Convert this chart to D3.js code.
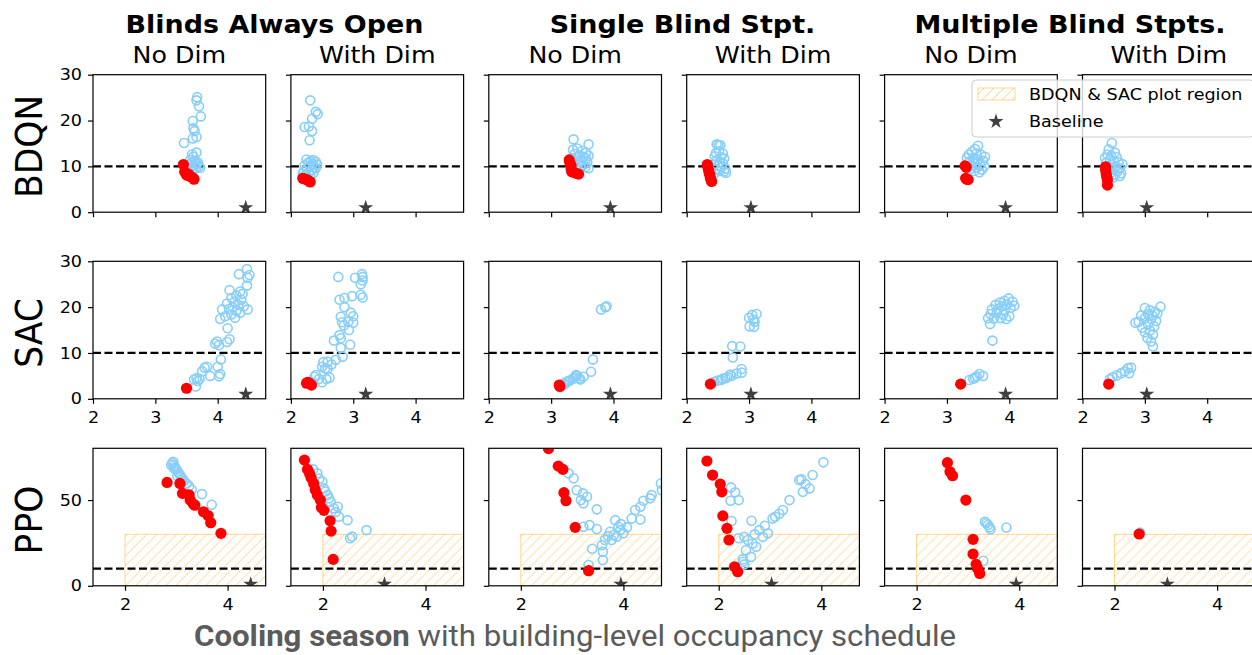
<!DOCTYPE html>
<html>
<head>
<meta charset="utf-8">
<script src="https://cdn.jsdelivr.net/npm/d3@7"></script>
<style>
  body { margin: 0; background: #fff; }
  svg { display: block; }
</style>
</head>
<body>
<svg id="chart" width="1252" height="655"></svg>
<script>
// ---- data ----
const algoNames = ["BDQN", "SAC", "PPO"];
const groupTitles = ["Blinds Always Open", "Single Blind Stpt.", "Multiple Blind Stpts."];
const dimTitles = ["No Dim", "With Dim", "No Dim", "With Dim", "No Dim", "With Dim"];
const legendLabels = ["BDQN & SAC plot region", "Baseline"];
const captionBold = "Cooling season";
const captionRest = " with building-level occupancy schedule";

const baselineX = [4.45, 3.20, 3.95, 3.03, 3.94, 3.03];
const baselineY = 1;
const thresholdY = 10;
const regionX = [2, 4.77];
const regionY = [0, 30];

const smallXDomain = [2, 4.77];
const smallYDomain = [0, 30];
const ppoXDomain = [1.376, 4.742];
const ppoYDomain = [0, 80.2];
const smallYTicks = [0, 10, 20, 30];
const smallXTicks = [2, 3, 4];
const ppoYTicks = [0, 50];
const ppoXTicks = [2, 4];

// BDQN: all runs (open circles) and selected runs (red) for each of the 6 panels
const bdqnRuns = [
  [[3.67,25.1],[3.66,24.4],[3.70,23.1],[3.73,20.9],[3.60,19.9],[3.61,18.3],[3.63,17.7],[3.66,16.4],[3.60,16.1],[3.46,15.1],[3.66,13.0],[3.59,12.6],[3.61,12.1],[3.56,11.4],[3.63,11.2],[3.58,10.8],[3.68,10.9],[3.55,10.4],[3.62,10.2],[3.70,10.0],[3.57,9.8],[3.65,9.6],[3.60,9.4],[3.72,9.7],[3.53,9.9],[3.67,10.5],[3.59,9.1]],
  [[2.31,24.4],[2.43,21.4],[2.40,21.9],[2.34,20.4],[2.22,18.6],[2.29,18.7],[2.34,17.7],[2.30,15.7],[2.25,11.5],[2.32,11.2],[2.36,11.4],[2.40,11.0],[2.28,10.8],[2.35,10.5],[2.42,10.4],[2.22,10.2],[2.30,10.0],[2.38,9.8],[2.26,9.5],[2.33,9.2],[2.40,9.6],[2.21,9.0],[2.29,8.7],[2.36,8.5],[2.24,8.2],[2.31,8.0],[2.19,8.4]],
  [[3.36,15.9],[3.60,14.8],[3.35,13.6],[3.42,13.9],[3.50,13.4],[3.56,13.0],[3.38,12.7],[3.45,12.4],[3.52,12.1],[3.60,12.3],[3.33,11.8],[3.40,11.5],[3.48,11.2],[3.56,11.6],[3.36,10.8],[3.44,10.5],[3.52,10.3],[3.58,10.9],[3.47,9.9],[3.55,9.8],[3.60,9.6],[3.40,9.6]],
  [[2.48,14.8],[2.54,14.6],[2.51,14.7],[2.58,12.8],[2.47,12.9],[2.52,13.3],[2.45,12.2],[2.55,12.0],[2.60,11.7],[2.48,11.3],[2.53,10.9],[2.58,10.6],[2.44,10.4],[2.50,10.1],[2.56,9.8],[2.62,9.5],[2.47,9.4],[2.53,9.0],[2.60,8.9],[2.63,8.6],[2.45,8.5]],
  [[3.50,14.5],[3.45,13.8],[3.61,12.1],[3.40,13.2],[3.35,12.6],[3.47,12.8],[3.55,12.5],[3.32,11.9],[3.42,11.7],[3.50,11.5],[3.58,11.2],[3.36,11.0],[3.45,10.6],[3.53,10.3],[3.60,10.0],[3.40,10.1],[3.48,9.7],[3.56,9.3],[3.44,9.0],[3.52,8.7],[3.38,9.5]],
  [[2.47,15.1],[2.42,13.7],[2.52,13.0],[2.40,12.6],[2.46,12.3],[2.55,12.0],[2.36,11.8],[2.44,11.5],[2.50,11.2],[2.58,10.9],[2.64,10.5],[2.38,10.8],[2.46,10.4],[2.53,10.0],[2.60,9.6],[2.42,9.7],[2.49,9.3],[2.56,8.9],[2.62,8.5],[2.45,8.6],[2.52,8.2],[2.60,7.9],[2.50,7.6]]
];
const bdqnBest = [
  [[3.45,10.4],[3.47,8.8],[3.50,8.1],[3.53,8.3],[3.56,7.8],[3.60,7.5],[3.62,7.2]],
  [[2.19,7.4],[2.21,7.3],[2.25,7.1],[2.27,7.0],[2.30,6.7],[2.31,6.6]],
  [[3.29,11.4],[3.30,10.8],[3.32,10.2],[3.32,9.4],[3.33,8.8],[3.40,8.5],[3.44,8.3]],
  [[2.33,10.4],[2.34,9.8],[2.35,9.2],[2.36,8.6],[2.37,8.1],[2.38,7.5],[2.39,7.0],[2.40,6.7]],
  [[3.29,10.1],[3.31,9.8],[3.30,7.4],[3.32,7.2],[3.34,7.1]],
  [[2.37,9.9],[2.37,9.2],[2.38,8.4],[2.39,7.6],[2.40,7.0],[2.40,5.9]]
];

const sacRuns = [
  [[4.47,28.3],[4.34,27.2],[4.51,27.0],[4.48,26.4],[4.47,24.7],[4.19,23.7],[4.36,23.4],[4.40,22.9],[4.30,22.5],[4.22,22.0],[4.38,21.6],[4.27,21.2],[4.15,20.8],[4.33,20.5],[4.24,20.0],[4.42,20.2],[4.18,19.6],[4.30,19.2],[4.48,19.5],[4.07,19.5],[4.36,18.8],[4.22,18.4],[4.12,18.0],[4.28,17.7],[4.04,17.4],[4.16,15.4],[4.19,13.0],[4.15,12.4],[3.99,12.5],[3.96,12.0],[4.02,11.7],[4.05,8.6],[4.00,7.0],[3.83,7.0],[3.79,6.8],[3.75,6.0],[3.88,5.0],[4.02,4.9],[4.04,5.4],[3.66,4.5],[3.71,4.3],[3.68,3.9],[3.65,2.7],[3.62,4.2]],
  [[2.76,26.6],[3.14,27.2],[3.15,26.6],[3.03,26.4],[3.12,25.0],[3.15,25.8],[3.12,22.7],[3.15,22.1],[2.98,22.4],[2.78,21.6],[2.86,22.0],[2.86,20.0],[2.80,17.9],[2.96,18.8],[3.00,18.0],[2.82,16.7],[2.92,16.8],[3.00,16.6],[2.85,16.0],[2.93,15.0],[2.78,13.9],[2.80,13.2],[2.69,12.7],[2.95,11.8],[2.80,11.1],[2.83,9.2],[2.72,8.5],[2.59,8.1],[2.52,8.0],[2.50,7.0],[2.55,6.6],[2.59,6.5],[2.65,7.5],[2.40,5.2],[2.38,4.8],[2.45,4.3],[2.57,4.3],[2.50,3.6],[2.62,4.6]],
  [[3.80,19.5],[3.87,20.0],[3.89,20.2],[3.67,8.6],[3.64,5.9],[3.40,5.2],[3.52,4.8],[3.45,4.5],[3.35,4.4],[3.30,4.0],[3.25,3.7],[3.20,3.4],[3.38,4.7],[3.47,4.2],[3.28,3.9],[3.22,3.2],[3.42,5.0]],
  [[3.12,18.5],[3.05,18.3],[3.00,17.7],[3.07,17.3],[3.09,16.8],[3.01,15.8],[3.08,15.7],[2.73,11.5],[2.86,11.4],[2.74,9.0],[2.88,6.5],[2.88,5.7],[2.80,5.5],[2.72,5.0],[2.65,4.7],[2.58,4.4],[2.50,4.0],[2.44,3.7],[2.40,3.4],[2.62,4.5],[2.70,5.3],[2.55,4.1]],
  [[3.99,21.9],[3.92,21.4],[3.85,21.0],[4.05,21.2],[3.78,20.5],[3.88,20.2],[3.96,20.6],[4.08,20.3],[3.72,19.5],[3.82,19.6],[3.93,19.4],[4.02,19.8],[3.70,18.5],[3.80,18.8],[3.90,18.4],[4.00,18.0],[3.86,17.6],[3.95,17.4],[3.75,17.5],[3.66,17.6],[3.69,16.3],[3.73,12.7],[3.36,4.1],[3.42,4.4],[3.48,4.9],[3.52,5.4],[3.58,5.0],[3.45,4.6]],
  [[3.25,20.1],[3.00,19.8],[3.08,19.3],[3.16,19.0],[3.05,18.5],[3.12,18.2],[3.20,18.6],[2.94,18.2],[3.00,17.6],[3.10,17.4],[3.18,17.0],[2.90,16.8],[2.85,16.6],[3.05,16.3],[3.15,15.8],[2.96,15.5],[3.08,14.9],[3.00,14.5],[3.13,14.0],[3.04,13.3],[3.10,12.5],[3.13,11.4],[2.78,6.8],[2.73,6.7],[2.68,6.0],[2.62,5.6],[2.55,5.1],[2.48,4.7],[2.44,4.3],[2.75,5.6]]
];
const sacBest = [
  [[3.50,2.3]],
  [[2.27,3.6],[2.29,3.5],[2.33,3.0],[2.25,3.4]],
  [[3.13,3.0],[3.14,2.7]],
  [[2.38,3.2]],
  [[3.22,3.2]],
  [[2.42,3.2]]
];

const ppoRuns = [
  [[2.94,72.3],[2.92,71.5],[2.90,70.5],[2.96,70.0],[2.98,68.8],[3.00,67.8],[2.95,68.5],[3.03,66.5],[3.06,65.2],[3.08,64.0],[3.12,62.5],[3.15,61.0],[3.20,59.7],[3.25,58.0],[3.30,56.0],[3.50,53.5],[3.69,47.3],[3.02,64.0],[3.10,60.5]],
  [[1.81,67.9],[1.89,65.6],[1.99,60.7],[2.02,56.8],[2.09,52.9],[2.15,49.0],[2.21,45.2],[2.29,46.1],[2.31,40.3],[2.48,38.3],[2.53,27.7],[2.57,28.7],[2.85,32.5],[1.93,62.5],[2.05,55.0],[2.12,51.0],[2.25,43.0]],
  [[2.93,65.6],[3.03,62.7],[3.09,55.8],[3.21,53.9],[3.29,51.9],[3.17,50.0],[3.22,48.1],[3.48,44.6],[3.22,34.4],[3.34,35.4],[3.48,33.1],[3.39,21.6],[3.32,12.1],[3.60,19.8],[3.60,15.0],[3.58,23.7],[3.64,26.7],[3.74,31.5],[3.81,29.6],[3.87,28.6],[3.94,32.5],[3.84,38.3],[3.77,26.7],[3.90,34.4],[4.00,30.6],[4.07,34.1],[4.16,39.3],[4.23,44.2],[4.33,46.1],[4.39,49.6],[4.52,51.0],[4.55,52.9],[4.73,59.7],[4.75,55.8],[4.33,38.7],[3.70,29.0],[3.95,36.0]],
  [[2.24,57.4],[2.32,54.5],[2.23,49.6],[2.39,50.0],[2.25,37.8],[2.39,27.7],[2.64,37.9],[2.50,28.6],[2.57,26.7],[2.66,24.7],[2.73,22.8],[2.47,15.4],[2.50,12.5],[2.48,14.0],[2.63,16.9],[2.53,20.8],[2.79,32.5],[2.86,28.6],[2.96,30.6],[2.70,30.0],[3.05,39.3],[3.25,44.2],[3.38,50.0],[3.57,61.7],[3.64,54.8],[3.77,56.8],[3.83,64.6],[4.04,72.0],[3.61,62.1],[3.69,59.3],[3.10,40.3],[3.18,42.0],[2.90,35.0]],
  [[3.33,37.3],[3.36,36.5],[3.39,35.5],[3.42,34.2],[3.44,33.0],[3.75,34.0],[3.30,14.6]],
  [[2.50,31.0]]
];
const ppoBest = [
  [[2.82,60.3],[3.07,59.7],[3.12,53.9],[3.25,53.0],[3.27,50.0],[3.33,47.7],[3.36,47.0],[3.53,43.2],[3.62,41.0],[3.67,36.8],[3.87,30.6]],
  [[1.64,73.3],[1.70,67.9],[1.74,65.5],[1.77,63.0],[1.82,59.7],[1.85,56.0],[1.89,52.9],[1.95,50.0],[1.97,45.7],[2.02,44.0],[2.14,37.9],[2.16,31.9],[2.20,15.4]],
  [[2.54,80.0],[2.73,69.8],[2.82,67.9],[2.84,54.3],[2.88,49.6],[3.06,34.1],[3.32,8.8]],
  [[1.77,72.8],[1.88,64.6],[2.03,59.3],[2.06,54.8],[2.08,40.8],[2.16,33.5],[2.20,26.7],[2.31,11.1],[2.37,8.2]],
  [[2.60,71.8],[2.65,66.5],[2.70,64.2],[2.96,50.0],[3.10,27.1],[3.10,18.5],[3.16,12.5],[3.19,10.0],[3.23,7.2]],
  [[2.48,30.2]]
];

// ---- layout ----
const FONT = "'DejaVu Sans', sans-serif";
const SX = 1.1; // reference is slightly wider than tall
const PANEL = { width: 172.7, height: 137.5 };
const COL_LEFT = 93;
const COL_STEP = 197.9;
const ROW_TOP = [74.7, 261.3, 448.3];
const GROUP_TITLE_X = [274.5, 682.5, 1070];
const BLUE = "#87cefa";
const RED = "#ff0000";
const HATCH = "#ffa500";

const rows = [
  { name: algoNames[0], runs: bdqnRuns, best: bdqnBest, xDomain: smallXDomain, yDomain: smallYDomain, xTicks: smallXTicks, yTicks: smallYTicks, xLabels: false, region: false },
  { name: algoNames[1], runs: sacRuns, best: sacBest, xDomain: smallXDomain, yDomain: smallYDomain, xTicks: smallXTicks, yTicks: smallYTicks, xLabels: true, region: false },
  { name: algoNames[2], runs: ppoRuns, best: ppoBest, xDomain: ppoXDomain, yDomain: ppoYDomain, xTicks: ppoXTicks, yTicks: ppoYTicks, xLabels: true, region: true }
];

const svg = d3.select("#chart").style("font-family", FONT);

const defs = svg.append("defs");
defs.append("pattern")
  .attr("id", "hatch")
  .attr("patternUnits", "userSpaceOnUse")
  .attr("width", 10)
  .attr("height", 10)
  .append("path")
  .attr("d", "M-2,2 L2,-2 M0,10 L10,0 M8,12 L12,8")
  .attr("stroke", HATCH)
  .attr("stroke-opacity", 0.45)
  .attr("stroke-width", 1);

const star = d3.symbol(d3.symbolStar).size(70);

const stretched = (x, y) => `translate(${x},${y}) scale(${SX},1)`;

const drawPanel = function(row, r, c) {
  const left = COL_LEFT + COL_STEP * c;
  const top = ROW_TOP[r];
  const x = d3.scaleLinear().domain(row.xDomain).range([0, PANEL.width]);
  const y = d3.scaleLinear().domain(row.yDomain).range([PANEL.height, 0]);

  const g = svg.append("g").attr("transform", `translate(${left},${top})`);
  const clipId = `clip-${r}-${c}`;
  defs.append("clipPath").attr("id", clipId)
    .append("rect").attr("width", PANEL.width).attr("height", PANEL.height);
  const plot = g.append("g").attr("clip-path", `url(#${clipId})`);

  if (row.region) {
    plot.append("rect")
      .attr("x", x(regionX[0]))
      .attr("y", y(regionY[1]))
      .attr("width", x(regionX[1]) - x(regionX[0]))
      .attr("height", y(regionY[0]) - y(regionY[1]))
      .attr("fill", "url(#hatch)")
      .attr("stroke", HATCH)
      .attr("stroke-opacity", 0.45);
  }

  plot.append("line")
    .attr("x1", 0).attr("x2", PANEL.width)
    .attr("y1", y(thresholdY)).attr("y2", y(thresholdY))
    .attr("stroke", "#000")
    .attr("stroke-width", 2.2)
    .attr("stroke-dasharray", "8,3.5");

  plot.selectAll("circle.run")
    .data(row.runs[c])
    .enter()
    .append("circle")
    .attr("class", "run")
    .attr("cx", d => x(d[0]))
    .attr("cy", d => y(d[1]))
    .attr("r", 4.5)
    .attr("fill", "none")
    .attr("stroke", BLUE)
    .attr("stroke-width", 1.6);

  plot.selectAll("circle.best")
    .data(row.best[c])
    .enter()
    .append("circle")
    .attr("class", "best")
    .attr("cx", d => x(d[0]))
    .attr("cy", d => y(d[1]))
    .attr("r", 5.6)
    .attr("fill", RED);

  plot.append("path")
    .attr("d", star())
    .attr("transform", `translate(${x(baselineX[c])},${y(baselineY)})`)
    .attr("fill", "#000")
    .attr("fill-opacity", 0.75);

  const yAxis = d3.axisLeft(y).tickValues(row.yTicks).tickSize(5).tickPadding(5)
    .tickFormat(c === 0 ? d3.format("d") : () => "");
  const xAxis = d3.axisBottom(x).tickValues(row.xTicks).tickSize(5).tickPadding(8)
    .tickFormat(row.xLabels ? d3.format("d") : () => "");

  [g.append("g").call(yAxis),
   g.append("g").attr("transform", `translate(0,${PANEL.height})`).call(xAxis)]
    .forEach(a => {
      a.select(".domain").remove();
      a.attr("font-family", FONT).attr("font-size", 16);
      a.selectAll("line").attr("stroke", "#000").attr("stroke-width", 1.2);
      a.selectAll("text").attr("fill", "#000").attr("transform", `scale(${SX},1)`);
    });

  g.append("rect")
    .attr("width", PANEL.width)
    .attr("height", PANEL.height)
    .attr("fill", "none")
    .attr("stroke", "#000")
    .attr("stroke-width", 1.2);

  if (r === 0) {
    svg.append("text")
      .attr("transform", stretched(left + PANEL.width / 2, 63))
      .attr("text-anchor", "middle")
      .attr("font-size", 23)
      .text(dimTitles[c]);
  }
  if (c === 0) {
    svg.append("text")
      .attr("transform", `translate(41.5,${top + PANEL.height / 2 + 3}) scale(${SX},1) rotate(-90)`)
      .attr("text-anchor", "middle")
      .attr("font-size", 34.5)
      .text(row.name);
  }
};

rows.forEach((row, r) => {
  d3.range(6).forEach(c => drawPanel(row, r, c));
});

groupTitles.forEach((t, i) => {
  svg.append("text")
    .attr("transform", stretched(GROUP_TITLE_X[i], 33))
    .attr("text-anchor", "middle")
    .attr("font-size", 24.5)
    .attr("font-weight", "bold")
    .text(t);
});

// legend
const legend = svg.append("g").attr("transform", "translate(972,80)");
legend.append("rect")
  .attr("width", 282)
  .attr("height", 57)
  .attr("rx", 4)
  .attr("fill", "#fff")
  .attr("fill-opacity", 0.8)
  .attr("stroke", "#cccccc")
  .attr("stroke-width", 1);
legend.append("rect")
  .attr("x", 6).attr("y", 8)
  .attr("width", 37).attr("height", 12)
  .attr("fill", "url(#hatch)")
  .attr("stroke", HATCH)
  .attr("stroke-opacity", 0.45);
legend.append("path")
  .attr("d", star())
  .attr("transform", "translate(24,41.5)")
  .attr("fill", "#000")
  .attr("fill-opacity", 0.75);
legendLabels.forEach((t, i) => {
  legend.append("text")
    .attr("transform", stretched(57, 20 + i * 26.5))
    .attr("font-size", 16)
    .text(t);
});

// caption
const caption = svg.append("text")
  .attr("transform", "translate(575,646) scale(1.04,1)")
  .attr("text-anchor", "middle")
  .attr("font-family", "Roboto, sans-serif")
  .attr("font-size", 30)
  .attr("fill", "#5b5b5b");
caption.append("tspan").attr("font-weight", "bold").text(captionBold);
caption.append("tspan").text(captionRest);
</script>
</body>
</html>
